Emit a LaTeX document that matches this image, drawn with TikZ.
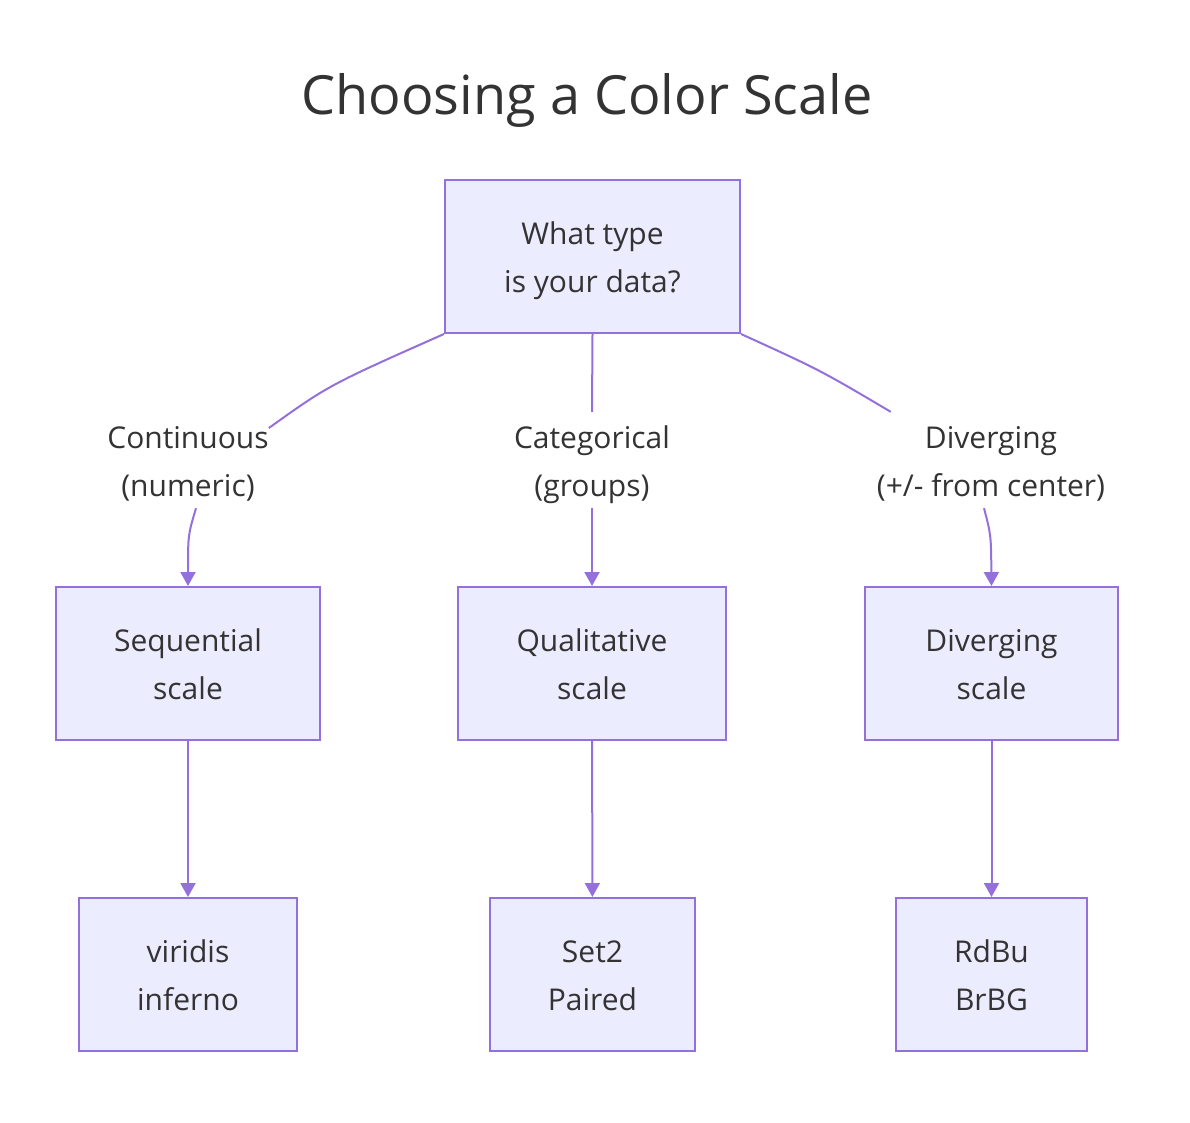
\documentclass[tikz,border=0pt]{standalone}
\usepackage{fontspec}
\setmainfont{Open Sans}
\usepackage{tikz}
\usetikzlibrary{arrows.meta}
\definecolor{boxfill}{HTML}{ECECFF}
\definecolor{boxline}{HTML}{9370DB}
\definecolor{inktext}{HTML}{333333}

\begin{document}
\begin{tikzpicture}[x=1pt,y=-1pt,every text node part/.style={align=center},
  font=\fontsize{30}{48}\selectfont, text=inktext,
  twoline/.style={text height=78pt, text depth=6pt},
  box/.style={twoline, draw=boxline, fill=boxfill, line width=2pt, inner sep=0pt, minimum height=153pt},
  edgelabel/.style={twoline, fill=white, inner sep=0pt, minimum height=96pt},
  link/.style={draw=boxline, line width=2pt},
  arr/.style={link, -{Triangle[length=14pt,width=15pt]}}]
\useasboundingbox (0,0) rectangle (1190,1122);
\node (title) at (587,100) {\fontsize{54}{60}\selectfont Choosing a Color Scale};
\node [box, minimum width=295pt] (top) at (592.5,256.5) {What type\\is your data?};
\node [edgelabel] (lcont) at (188,460) {Continuous\\(numeric)};
\node [edgelabel] (lcat) at (592,460) {Categorical\\(groups)};
\node [edgelabel] (ldiv) at (991,460) {Diverging\\(+/- from center)};
\node [box, minimum width=264pt] (seq) at (188,663.5) {Sequential\\scale};
\node [box, minimum width=268pt] (qual) at (592,663.5) {Qualitative\\scale};
\node [box, minimum width=253pt] (div) at (991.5,663.5) {Diverging\\scale};
\node [box, minimum width=218pt] (vir) at (188,974.5) {viridis\\inferno};
\node [box, minimum width=205pt] (set) at (592.5,974.5) {Set2\\Paired};
\node [box, minimum width=191pt] (rdbu) at (991.5,974.5) {RdBu\\BrBG};
\draw [link] (top.south west) .. controls (329,385) .. ([yshift=32pt]lcont.east);
\draw [arr] ([xshift=8pt]lcont.south) .. controls (188,535) .. (seq.north);
\draw [link] (top.south) -- (lcat.north);
\draw [arr] (lcat.south) -- (qual.north);
\draw [link] (top.south east) .. controls (820,370) .. ([xshift=14pt]ldiv.north west);
\draw [arr] ([xshift=-7pt]ldiv.south) .. controls (991,535) .. (div.north);
\draw [arr] (seq) -- (vir);
\draw [arr] (qual) -- (set);
\draw [arr] (div) -- (rdbu);
\end{tikzpicture}
\end{document}
